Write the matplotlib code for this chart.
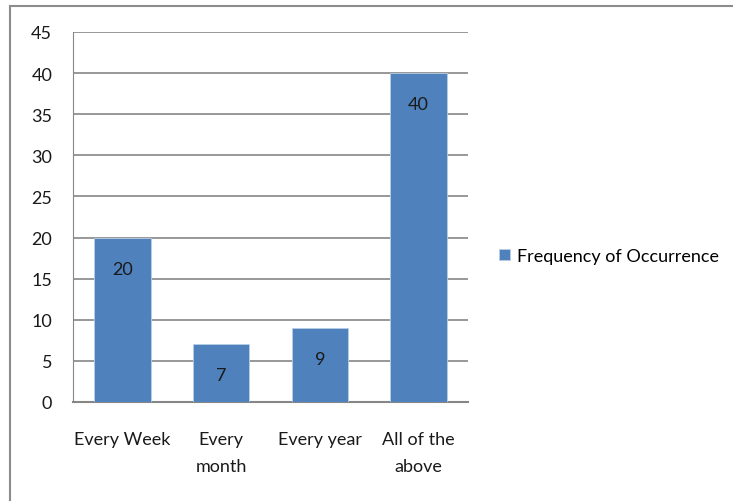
import matplotlib.pyplot as plt
from matplotlib.patches import Rectangle

# data
categories = ['Every Week', 'Every\nmonth', 'Every year', 'All of the\nabove']
counts = [20, 7, 9, 40]
series_name = 'Frequency of Occurrence'
yticks = [0, 5, 10, 15, 20, 25, 30, 35, 40, 45]

blue = '#4F81BD'
grid = '#868686'

plt.rcParams['font.family'] = ['Lato', 'DejaVu Sans']

W, H = 733, 502
fig = plt.figure(figsize=(W / 100, H / 100), dpi=100)

# outer chart border (cut off at right and bottom like the reference)
fig.patches.append(Rectangle((10 / W, -0.1), 1.2, 1 - 7 / H + 0.1,
                             transform=fig.transFigure, fill=False,
                             edgecolor='#8c8c8c', linewidth=1.5))

# plot area in pixels: x 73..468, y 33..403
ax = fig.add_axes([73 / W, 1 - 403 / H, (468 - 73) / W, (403 - 33) / H])

x = range(len(categories))
bars = ax.bar(x, counts, width=0.57, color=blue, edgecolor='#b9cde5',
              linewidth=0.6, zorder=3, label=series_name)

for b, v in zip(bars, counts):
    ax.annotate(str(v), (b.get_x() + b.get_width() / 2, v),
                xytext=(0, -31), textcoords='offset pixels',
                ha='center', va='center', fontsize=13, color='#1a1a1a',
                zorder=4)

ax.set_xlim(-0.5, len(categories) - 0.5)
ax.set_ylim(0, 45)
ax.set_yticks(yticks)
ax.set_xticks(list(x))
ax.set_xticklabels(categories, linespacing=1.8)
ax.yaxis.grid(True, color=grid, linewidth=1.2, zorder=0)

for side in ['top', 'right']:
    ax.spines[side].set_visible(False)
ax.spines['left'].set_color(grid)
ax.spines['bottom'].set_color(grid)
ax.spines['bottom'].set_linewidth(1.5)
ax.tick_params(axis='both', length=0, labelsize=13, colors='#1a1a1a')
ax.tick_params(axis='y', pad=15)
ax.tick_params(axis='x', pad=21)

fig.legend(handles=[bars], labels=[series_name], loc='center left',
           bbox_to_anchor=(492 / W, 1 - 257 / H), frameon=False,
           fontsize=13, handlelength=0.6, handleheight=0.6,
           handletextpad=0.4, borderaxespad=0)

fig.savefig('out.png', dpi=100)
